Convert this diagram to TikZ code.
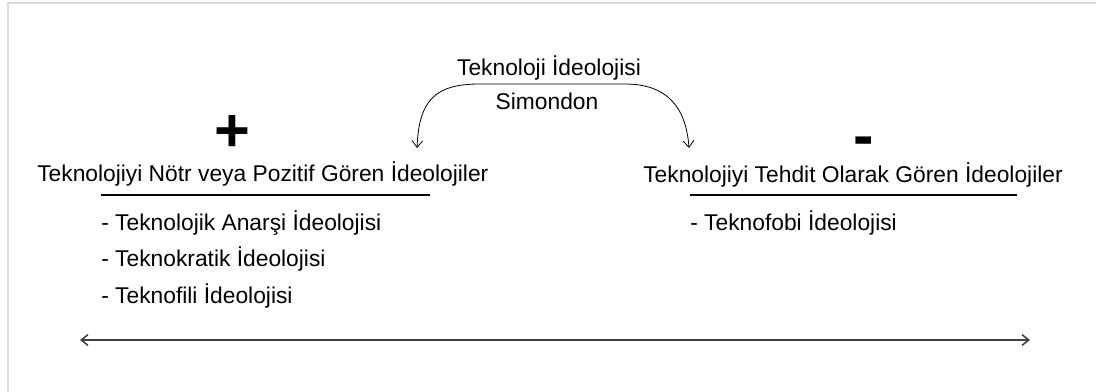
\documentclass[tikz,border=0pt]{standalone}
\usepackage{fontspec}
\setmainfont{Liberation Sans}
\usetikzlibrary{arrows,arrows.meta,positioning}

\begin{document}
\begin{tikzpicture}[x=0.75pt,y=-0.75pt,
	lbl/.style={anchor=base,inner sep=0pt},
	item/.style={anchor=base west,inner sep=0pt},
	sign/.style={anchor=base,inner sep=0pt,font=\fontsize{46}{50}\selectfont\bfseries},
	>={Straight Barb[length=5pt,width=8pt]},
	font=\fontsize{17.1}{20}\selectfont]

	\useasboundingbox (0,0) rectangle (1096,392);
	\draw [black!15, line width=1pt] (8,392) -- (8,3) -- (1096,3);

	\node[lbl] (A) at (549,76) {Teknoloji İdeolojisi};
	\node[lbl] (B) at (547,110) {Simondon};

	\node[sign] (P) at (232,152) {+};
	\node[sign] (M) at (864,157) {-};

	\node[item] (C) at (37,182) {Teknolojiyi Nötr veya Pozitif Gören İdeolojiler};
	\node[item] (c1) at (101,230) {- Teknolojik Anarşi İdeolojisi};
	\node[item] (c2) at (101,267) {- Teknokratik İdeolojisi};
	\node[item] (c3) at (101,303) {- Teknofili İdeolojisi};

	\node[item] (D) at (643,183) {Teknolojiyi Tehdit Olarak Gören İdeolojiler};
	\node[item] (d1) at (690,230) {- Teknofobi İdeolojisi};

	\draw [line width=1pt] (101,195) to (430,195);
	\draw [line width=1pt] (690,195) to (1017,195);

	\coordinate (a1) at (417,148);
	\coordinate (a2) at (689,148);
	\draw [<->, semithick] (a1) .. controls (419,100) and (435,84) .. (480,84)
		-- (625,84) .. controls (665,84) and (686,105) .. (a2);

	\coordinate (L) at (80,340);
	\coordinate (R) at (1030,340);
	\draw [<->, black!75, line width=1.2pt] (L) to (R);

\end{tikzpicture}
\end{document}
